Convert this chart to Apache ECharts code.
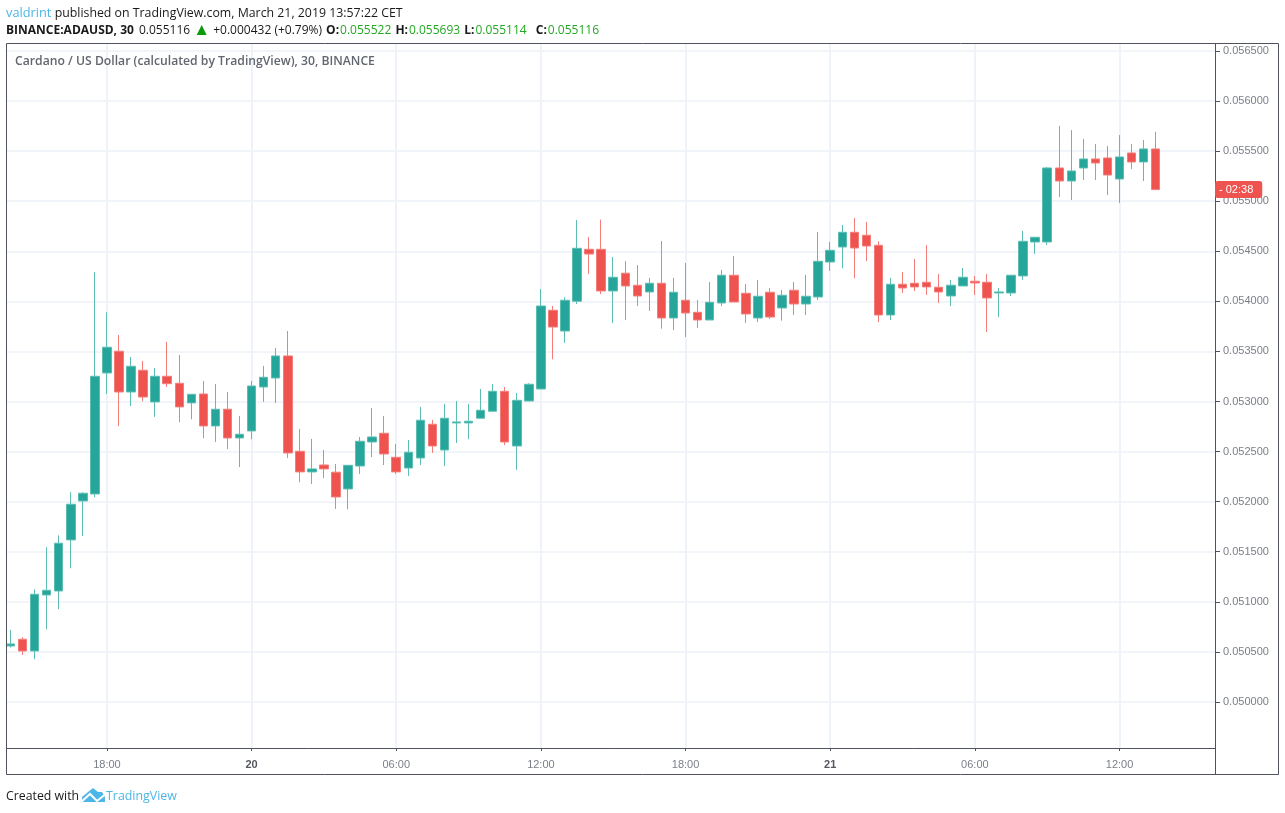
<!DOCTYPE html>
<html>
<head>
<meta charset="utf-8">
<title>ADAUSD</title>
<style>
  html, body { margin: 0; padding: 0; background: #fff; }
  #chart { width: 1285px; height: 813px; }
</style>
</head>
<body>
<div id="chart"></div>
<script src="https://cdn.jsdelivr.net/npm/echarts@6/dist/echarts.min.js"></script>
<script>
// 30 minute candles, x is counted in half hours since March 19 00:00
const firstSlot = 28
const opens = [0.050559,0.050626,0.050509,0.051068,0.051108,0.051618,0.052007,0.052077,0.053285,0.053502,0.053095,0.053312,0.052996,0.053252,0.053182,0.052986,0.053075,0.052756,0.052923,0.052636,0.052706,0.053145,0.053235,0.053455,0.052503,0.052297,0.052366,0.052294,0.052127,0.052356,0.052596,0.052683,0.052443,0.052336,0.052436,0.052773,0.052516,0.052786,0.052786,0.052833,0.052903,0.053102,0.052556,0.053005,0.053125,0.053911,0.053704,0.054001,0.054520,0.054520,0.054104,0.054281,0.054161,0.054094,0.054181,0.053834,0.054011,0.053891,0.053814,0.053984,0.054261,0.054081,0.053834,0.054091,0.053934,0.054111,0.053974,0.054044,0.054393,0.054543,0.054690,0.054660,0.054560,0.053864,0.054171,0.054181,0.054191,0.054141,0.054054,0.054154,0.054201,0.054191,0.054084,0.054084,0.054254,0.054593,0.054593,0.055332,0.055202,0.055332,0.055422,0.055432,0.055222,0.055482,0.055392,0.055522]
const closes = [0.050579,0.050509,0.051075,0.051115,0.051585,0.051974,0.052084,0.053252,0.053542,0.053095,0.053352,0.053045,0.053252,0.053178,0.052946,0.053072,0.052756,0.052923,0.052636,0.052673,0.053155,0.053242,0.053455,0.052486,0.052297,0.052327,0.052327,0.052047,0.052363,0.052603,0.052646,0.052476,0.052297,0.052493,0.052813,0.052556,0.052833,0.052796,0.052803,0.052913,0.053102,0.052596,0.053012,0.053172,0.053954,0.053744,0.054011,0.054530,0.054473,0.054104,0.054241,0.054154,0.054054,0.054181,0.053834,0.054091,0.053884,0.053814,0.053991,0.054261,0.053994,0.053874,0.054051,0.053844,0.054061,0.053974,0.054051,0.054400,0.054510,0.054690,0.054533,0.054553,0.053864,0.054171,0.054134,0.054144,0.054144,0.054094,0.054161,0.054241,0.054184,0.054034,0.054094,0.054261,0.054600,0.054640,0.055332,0.055202,0.055302,0.055422,0.055382,0.055262,0.055442,0.055392,0.055522,0.055116]
const lows = [0.050544,0.050469,0.050426,0.050726,0.050926,0.051335,0.051658,0.052044,0.053075,0.052756,0.052956,0.053002,0.052846,0.053145,0.052793,0.052823,0.052633,0.052596,0.052526,0.052346,0.052623,0.052996,0.052986,0.052436,0.052194,0.052177,0.052234,0.051927,0.051924,0.052277,0.052446,0.052366,0.052277,0.052257,0.052366,0.052486,0.052356,0.052586,0.052623,0.052833,0.052903,0.052566,0.052317,0.053005,0.053125,0.053422,0.053585,0.053974,0.054274,0.054074,0.053784,0.053814,0.053954,0.053904,0.053727,0.053714,0.053645,0.053734,0.053814,0.053954,0.053994,0.053784,0.053794,0.053824,0.053807,0.053864,0.053864,0.054014,0.054304,0.054330,0.054231,0.054403,0.053794,0.053814,0.054084,0.054104,0.054064,0.053984,0.053954,0.054154,0.054064,0.053694,0.053844,0.054054,0.054214,0.054473,0.054563,0.055042,0.055012,0.055212,0.055212,0.055062,0.054983,0.055322,0.055202,0.055114]
const highs = [0.050719,0.050646,0.051125,0.051545,0.051664,0.052094,0.052094,0.054291,0.053891,0.053664,0.053445,0.053405,0.053335,0.053595,0.053465,0.053072,0.053205,0.053175,0.053095,0.052856,0.053205,0.053355,0.053535,0.053704,0.052726,0.052626,0.052516,0.052376,0.052366,0.052646,0.052936,0.052856,0.052576,0.052616,0.052946,0.052816,0.052976,0.053005,0.052976,0.053125,0.053175,0.053145,0.053085,0.053182,0.054124,0.053954,0.054041,0.054813,0.054643,0.054816,0.054443,0.054403,0.054363,0.054234,0.054603,0.054234,0.054383,0.054014,0.054194,0.054314,0.054453,0.054174,0.054214,0.054134,0.054114,0.054194,0.054264,0.054693,0.054593,0.054763,0.054833,0.054793,0.054600,0.054234,0.054294,0.054423,0.054563,0.054274,0.054214,0.054333,0.054254,0.054274,0.054134,0.054261,0.054703,0.054640,0.055342,0.055751,0.055711,0.055622,0.055572,0.055552,0.055661,0.055572,0.055612,0.055693]

const tickSlots = [36, 48, 60, 72, 84, 96, 108, 120]
const tickLabels = ['18:00', '20', '06:00', '12:00', '18:00', '21', '06:00', '12:00']
const dayLabels = ['20', '21']

const lastPrice = 0.055116
const countdown = '02:38'

const green = '#26A69A'
const red = '#EF5350'
const blue = '#4DB6E8'
const font = '"Open Sans", "Noto Sans", sans-serif'
const axisFont = '"Liberation Sans", Arial, sans-serif'

const candles = opens.map((o, i) => [firstSlot + i, o, closes[i], lows[i], highs[i]])

const myChart = echarts.init(document.getElementById('chart'), null, { renderer: 'canvas' })

const option = {
  animation: false,
  backgroundColor: '#fff',
  textStyle: { fontFamily: font },
  title: [
    {
      left: 1,
      top: 2,
      text: '{u|valdrint} published on TradingView.com, March 21, 2019 13:57:22 CET',
      textStyle: {
        fontFamily: font, fontSize: 12.33, fontWeight: 'normal', color: '#1a1a1a',
        rich: { u: { color: blue, fontSize: 12.8, fontFamily: font, fontWeight: 'normal' } }
      }
    },
    {
      left: 1,
      top: 17,
      text: '{b|BINANCE:ADAUSD, 30} 0.055116 {up|▲} +0.000432 (+0.79%) {o|O:}{g|0.055522} {o|H:}{g|0.055693} {o|L:}{g|0.055114} {c|C:}{g|0.055116}',
      textStyle: {
        fontFamily: font, fontSize: 12, fontWeight: 'normal', color: '#1a1a1a',
        rich: {
          b: { fontFamily: font, fontSize: 12, fontWeight: 'bold', color: '#1a1a1a', padding: [0, 2, 0, 0] },
          o: { fontFamily: font, fontSize: 12, fontWeight: 'bold', color: '#1a1a1a', padding: [0, 0, 0, 1] },
          c: { fontFamily: font, fontSize: 12, fontWeight: 'bold', color: '#1a1a1a', padding: [0, 0, 0, 6] },
          g: { fontFamily: font, fontSize: 12, color: '#22a822', padding: [0, 0, 0, 1] },
          up: { fontFamily: font, fontSize: 17, color: '#0a9a0a' }
        }
      }
    },
    {
      left: 10,
      top: 51,
      text: 'Cardano / US Dollar (calculated by TradingView), 30, BINANCE',
      textStyle: { fontFamily: font, fontSize: 12.2, fontWeight: 600, color: '#62666f' }
    },
    {
      left: 1,
      top: 785,
      text: 'Created with',
      textStyle: { fontFamily: font, fontSize: 12.3, fontWeight: 'normal', color: '#1a1a1a' }
    },
    {
      left: 101,
      top: 785,
      text: 'TradingView',
      textStyle: { fontFamily: font, fontSize: 12.4, fontWeight: 'normal', color: blue }
    }
  ],
  grid: { left: 7, right: 70, top: 44, bottom: 65 },
  xAxis: {
    type: 'value',
    min: 27.71,
    max: 127.92,
    splitNumber: 8,
    minInterval: 12,
    maxInterval: 12,
    axisLine: { show: true, onZero: false, lineStyle: { color: '#50535e', width: 1 } },
    axisTick: { show: true, length: 3, lineStyle: { color: '#50535e' } },
    axisLabel: {
      showMinLabel: false,
      showMaxLabel: false,
      margin: 11,
      fontFamily: axisFont,
      fontSize: 11,
      color: '#7a7f88',
      formatter: (v) => {
        const label = tickLabels[tickSlots.indexOf(v)] || ''
        return dayLabels.includes(label) ? '{d|' + label + '}' : label
      },
      rich: { d: { fontFamily: axisFont, fontSize: 11, fontWeight: 'bold', color: '#55585f' } }
    },
    splitLine: { show: true, showMinLine: false, showMaxLine: false, lineStyle: { color: '#EDF3F8', width: 2 } }
  },
  yAxis: {
    type: 'value',
    position: 'right',
    min: 0.04954,
    max: 0.05657,
    splitNumber: 14,
    minInterval: 0.0005,
    maxInterval: 0.0005,
    axisLine: { show: true, onZero: false, lineStyle: { color: '#50535e', width: 1 } },
    axisTick: { show: true, length: 5, lineStyle: { color: '#50535e' } },
    axisLabel: {
      showMinLabel: false,
      showMaxLabel: false,
      margin: 8,
      padding: [4, 0, 0, 0],
      fontFamily: axisFont,
      fontSize: 11,
      color: '#7a7f88',
      formatter: (v) => v.toFixed(6)
    },
    splitLine: { show: true, showMinLine: false, showMaxLine: false, lineStyle: { color: '#F1F5F9', width: 2 } },
    // last price tag on the scale
    axisPointer: {
      show: true,
      status: 'show',
      value: lastPrice,
      triggerOn: 'none',
      triggerTooltip: false,
      lineStyle: { opacity: 0 },
      label: {
        show: true,
        margin: 0,
        formatter: '- ' + countdown,
        backgroundColor: red,
        color: '#fff',
        fontFamily: axisFont,
        fontSize: 11,
        padding: [3, 9, 3, 4],
        shadowBlur: 0
      }
    }
  },
  series: [
    {
      type: 'candlestick',
      data: candles,
      barWidth: 9,
      clip: false,
      itemStyle: {
        color: green,
        color0: red,
        borderColor: '#5CBDB3',
        borderColor0: '#F47C79',
        borderWidth: 1
      }
    }
  ],
  graphic: [
    {
      type: 'rect',
      silent: true,
      z: 30,
      shape: { x: 6.5, y: 43.5, width: 1272, height: 731 },
      style: { fill: 'none', stroke: '#50535e', lineWidth: 1 }
    },
    {
      // right scale runs down to the bottom frame
      type: 'line',
      silent: true,
      z: 30,
      shape: { x1: 1215.5, y1: 748, x2: 1215.5, y2: 774 },
      style: { stroke: '#50535e', lineWidth: 1 }
    },
    {
      type: 'polygon',
      silent: true,
      shape: { points: [[82, 802], [82, 797], [93, 788], [98, 792], [102, 792], [105, 797], [105, 802]] },
      style: { fill: blue }
    },
    {
      type: 'polyline',
      silent: true,
      shape: { points: [[80, 803], [90, 794], [97, 801], [107, 793]] },
      style: { stroke: '#fff', lineWidth: 2, fill: 'none' }
    }
  ]
}

myChart.setOption(option)
</script>
</body>
</html>
